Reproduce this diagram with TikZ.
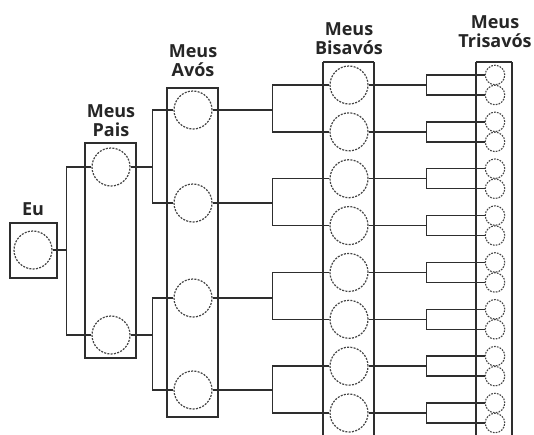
\documentclass[tikz,border=0pt]{standalone}
\usepackage{fontspec}
\setmainfont{Open Sans}
\definecolor{linecol}{HTML}{2E2E2E}
\definecolor{dashcol}{HTML}{444444}
\begin{document}
\begin{tikzpicture}[x=1pt,y=-1pt,
  box/.style={draw=linecol,line width=1.8pt},
  conn/.style={draw=linecol,line width=1.5pt},
  pbig/.style={circle,draw=dashcol,line width=1.2pt,dash pattern=on 2pt off 1.3pt,minimum size=38pt,inner sep=0pt,fill=white},
  psmall/.style={circle,draw=dashcol,line width=1.1pt,dash pattern=on 1.7pt off 1.2pt,minimum size=19.5pt,inner sep=0pt,fill=white},
  lbl/.style={font=\bfseries\fontsize{18}{19}\selectfont,align=center,anchor=south,inner sep=0pt,text=black!85}]
\useasboundingbox (0,0) rectangle (534,434);
\clip (0,0) rectangle (534,434);
\fill[white] (0,0) rectangle (534,434);
% boxes
\draw[box] (10,223) rectangle (57,278);
\draw[box] (85,143) rectangle (136,358);
\draw[box] (167,88) rectangle (218,417);
\draw[box] (323,62) -- (323,440) (374,62) -- (374,440) (323,62) -- (374,62);
\draw[box] (476,62) -- (476,440) (512,62) -- (512,440) (476,62) -- (512,62);
% labels
\node[lbl] (leu) at (33,216) {Eu};
\node[lbl] (lpais) at (111,137) {Meus\\Pais};
\node[lbl] (lavos) at (193,77) {Meus\\Avós};
\node[lbl] (lbis) at (349,55) {Meus\\Bisavós};
\node[lbl] (ltri) at (495,48) {Meus\\Trisavós};
% people
\node[pbig] (eu) at (33,250) {};
\node[pbig] (p1) at (111,167) {};
\node[pbig] (p2) at (111,335) {};
\node[pbig] (a1) at (193,110) {};
\node[pbig] (a2) at (193,203) {};
\node[pbig] (a3) at (193,298) {};
\node[pbig] (a4) at (193,390) {};
\foreach \i in {1,...,8} {
  \pgfmathsetmacro{\yb}{85+46.86*(\i-1)}
  \node[pbig] (b\i) at (349,\yb) {};
  \pgfmathtruncatemacro{\ja}{2*\i-1}
  \pgfmathtruncatemacro{\jb}{2*\i}
  \node[psmall] (t\ja) at (495,\yb-10) {};
  \node[psmall] (t\jb) at (495,\yb+10) {};
}
% connectors
\draw[conn] (p1.west) -- ++(-25,0) |- (eu.east);
\draw[conn] (p2.west) -- ++(-25,0) |- (eu.east);
\draw[conn] (a1.west) -- ++(-21,0) |- (p1.east);
\draw[conn] (a2.west) -- ++(-21,0) |- (p1.east);
\draw[conn] (a3.west) -- ++(-21,0) |- (p2.east);
\draw[conn] (a4.west) -- ++(-21,0) |- (p2.east);
\draw[conn] (b1.west) -- ++(-57,0) |- (a1.east);
\draw[conn] (b2.west) -- ++(-57,0) |- (a1.east);
\draw[conn] (b3.west) -- ++(-57,0) |- (a2.east);
\draw[conn] (b4.west) -- ++(-57,0) |- (a2.east);
\draw[conn] (b5.west) -- ++(-57,0) |- (a3.east);
\draw[conn] (b6.west) -- ++(-57,0) |- (a3.east);
\draw[conn] (b7.west) -- ++(-57,0) |- (a4.east);
\draw[conn] (b8.west) -- ++(-57,0) |- (a4.east);
\foreach \i in {1,...,8} {
  \pgfmathtruncatemacro{\ja}{2*\i-1}
  \pgfmathtruncatemacro{\jb}{2*\i}
  \draw[conn] (t\ja.west) -- ++(-58,0) |- (b\i.east);
  \draw[conn] (t\jb.west) -- ++(-58,0) |- (b\i.east);
}
\end{tikzpicture}
\end{document}
